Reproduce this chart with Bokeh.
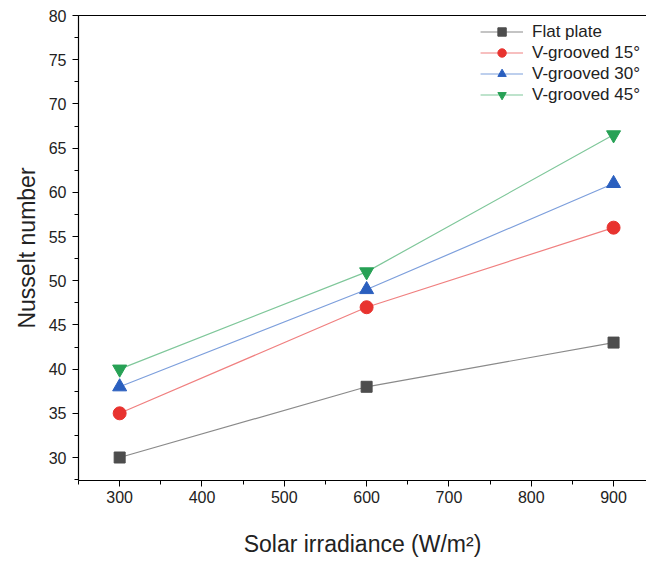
from bokeh.plotting import figure
from bokeh.models import Range1d, SingleIntervalTicker, FixedTicker, LinearAxis, Legend, LegendItem
from bokeh.embed import file_html
from bokeh.resources import INLINE

irradiance = [300, 600, 900]
flat_plate = [30, 38, 43]
v15 = [35, 47, 56]
v30 = [38, 49, 61]
v45 = [40, 51, 66.5]

series = [
    ("Flat plate", flat_plate, "#4d4d4d", "#8a8a8a", "square", 11),
    ("V-grooved 15°", v15, "#e8332f", "#f08080", "circle", 13),
    ("V-grooved 30°", v30, "#2a5fbf", "#7d9fdc", "triangle", 14),
    ("V-grooved 45°", v45, "#27a155", "#7fc79a", "inverted_triangle", 14),
]

FONT = "Liberation Sans"

p = figure(width=646, height=562, output_backend="svg", toolbar_location=None,
           x_range=Range1d(250, 940), y_range=Range1d(27.4, 80),
           min_border_left=78, min_border_right=0, min_border_top=15, min_border_bottom=82)
p.outline_line_color = None
p.grid.visible = False
p.background_fill_color = "white"

items = []
for name, ys, mc, lc, marker, size in series:
    r1 = p.line(irradiance, ys, line_color=lc, line_width=1.2)
    r2 = p.scatter(irradiance, ys, marker=marker, size=size, fill_color=mc, line_color=mc)
    items.append(LegendItem(label=name, renderers=[r1, r2]))

legend = Legend(items=items, location="top_right", border_line_color=None,
                background_fill_alpha=0, label_text_font=FONT, label_text_font_size="17px",
                label_text_color="#222222", glyph_width=43, glyph_height=21, spacing=0,
                padding=4, margin=6, label_standoff=9, label_height=21)
p.add_layout(legend)

for ax in (p.xaxis[0], p.yaxis[0]):
    ax.axis_line_color = "black"
    ax.axis_line_width = 1.2
    ax.major_tick_line_color = "black"
    ax.minor_tick_line_color = "black"
    ax.major_tick_in = 0
    ax.major_tick_out = 6
    ax.minor_tick_in = 0
    ax.minor_tick_out = 4
    ax.major_label_text_font = FONT
    ax.major_label_text_font_size = "16px"
    ax.major_label_text_color = "#222222"
    ax.axis_label_text_font = FONT
    ax.axis_label_text_font_size = "23px"
    ax.axis_label_text_font_style = "normal"
    ax.axis_label_text_color = "#222222"

p.xaxis[0].ticker = SingleIntervalTicker(interval=100, num_minor_ticks=2)
p.yaxis[0].ticker = SingleIntervalTicker(interval=5, num_minor_ticks=2)
p.xaxis[0].axis_label = "Solar irradiance (W/m²)"
p.yaxis[0].axis_label = "Nusselt number"
p.xaxis[0].major_label_standoff = 4
p.xaxis[0].axis_label_standoff = 25
p.yaxis[0].major_label_standoff = 6
p.yaxis[0].axis_label_standoff = 6

top = LinearAxis(axis_line_color="black", axis_line_width=1.2,
                 ticker=FixedTicker(ticks=[]),
                 major_tick_line_color=None, minor_tick_line_color=None)
p.add_layout(top, "above")

open("out.html", "w").write(file_html(p, INLINE))
